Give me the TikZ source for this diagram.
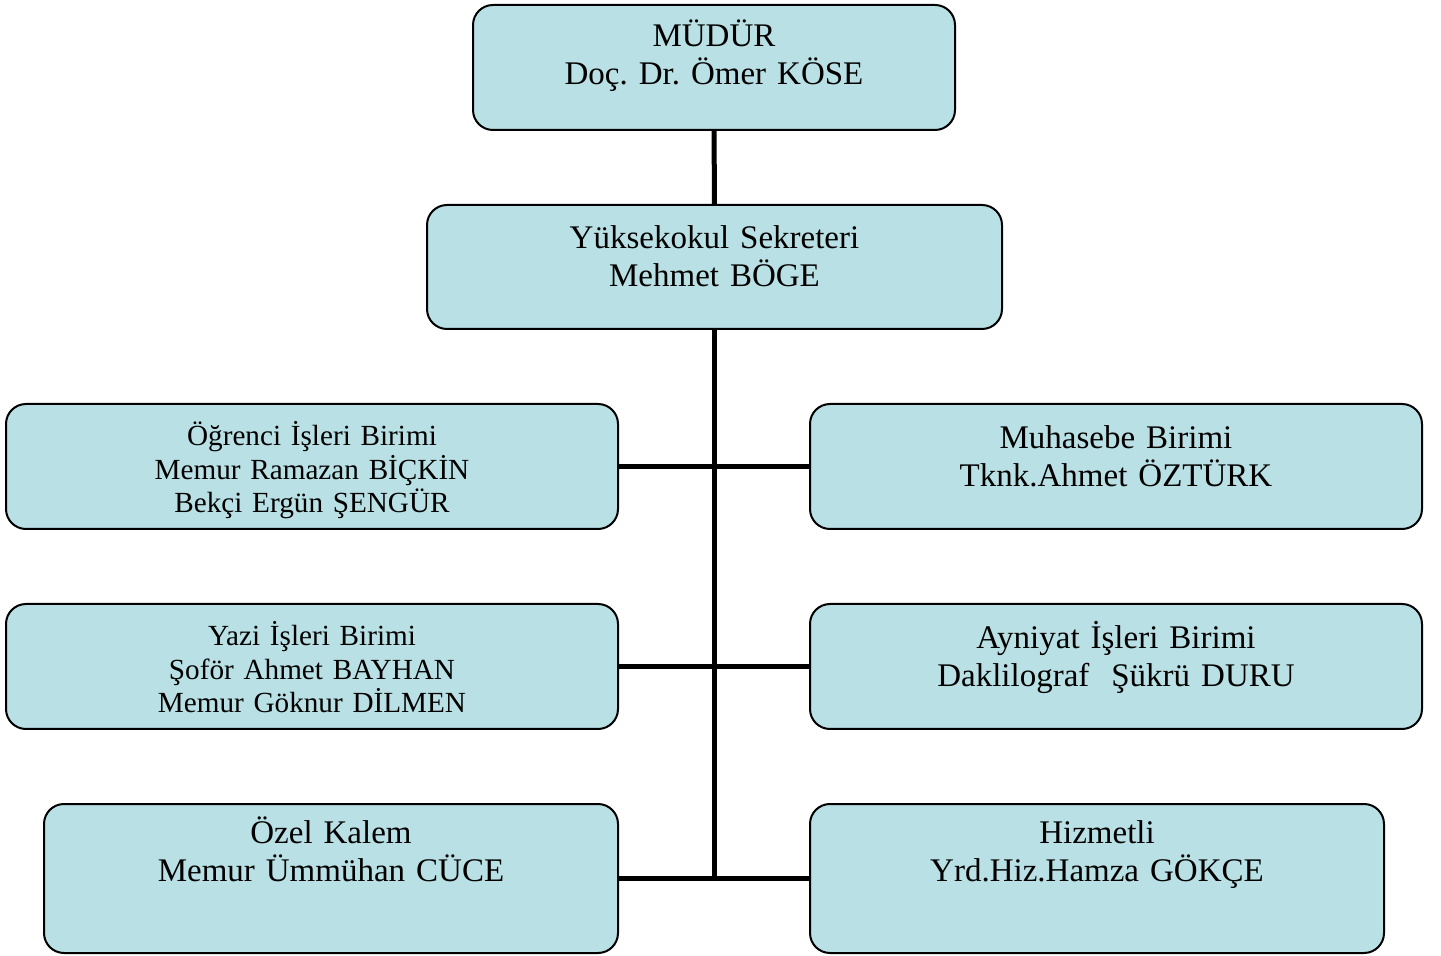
\documentclass[tikz,border=0pt]{standalone}
\usepackage{fontspec}
\setmainfont{Liberation Serif}
\frenchspacing
\definecolor{boxfill}{RGB}{185,224,228}
\tikzset{
  unit/.style={draw, line width=1pt, fill=boxfill, rounded corners=10pt,
    anchor=north west, inner sep=0pt, align=center,
    text height=21pt, text depth=41.5pt,
    font=\fontsize{16.5}{19}\selectfont},
  small/.style={font=\fontsize{14.6}{16.75}\selectfont},
  low/.style={text height=22.5pt, text depth=40pt},
  tall/.style={text height=19.5pt, text depth=55pt},
  link/.style={line width=2.5pt}
}
\begin{document}
\begin{tikzpicture}[x=0.5pt,y=-0.5pt]
  \useasboundingbox (0,0) rectangle (1441,956);

  \node (mudur) [unit, text width=241pt] at (472,4)
    {MÜDÜR\\Doç. Dr. Ömer KÖSE};

  \node (sekreter) [unit, text width=287.5pt, text height=22pt, text depth=40pt] at (426,204)
    {Yüksekokul Sekreteri\\Mehmet BÖGE};

  \node (ogrenci) [unit, small, text width=306pt] at (5,403)
    {Öğrenci İşleri Birimi\\Memur Ramazan BİÇKİN\\Bekçi Ergün ŞENGÜR};

  \node (muhasebe) [unit, low, text width=306pt] at (809,403)
    {Muhasebe Birimi\\Tknk.Ahmet ÖZTÜRK};

  \node (yazi) [unit, small, text width=306pt] at (5,603)
    {Yazi İşleri Birimi\\Şoför Ahmet BAYHAN\\Memur Göknur DİLMEN};

  \node (ayniyat) [unit, low, text width=306pt] at (809,603)
    {Ayniyat İşleri Birimi\\Daklilograf\ \ Şükrü DURU};

  \node (ozel) [unit, tall, text width=287pt] at (43,803)
    {Özel Kalem\\Memur Ümmühan CÜCE};

  \node (hizmetli) [unit, tall, text width=287pt] at (809,803)
    {Hizmetli\\Yrd.Hiz.Hamza GÖKÇE};

  % trunk down the middle
  \coordinate (trunk) at (sekreter.south |- ozel.east);

  \path[link] (mudur) edge (sekreter)
              (sekreter) edge (trunk)
              (ogrenci) edge (muhasebe)
              (yazi) edge (ayniyat)
              (ozel) edge (hizmetli);
\end{tikzpicture}
\end{document}
